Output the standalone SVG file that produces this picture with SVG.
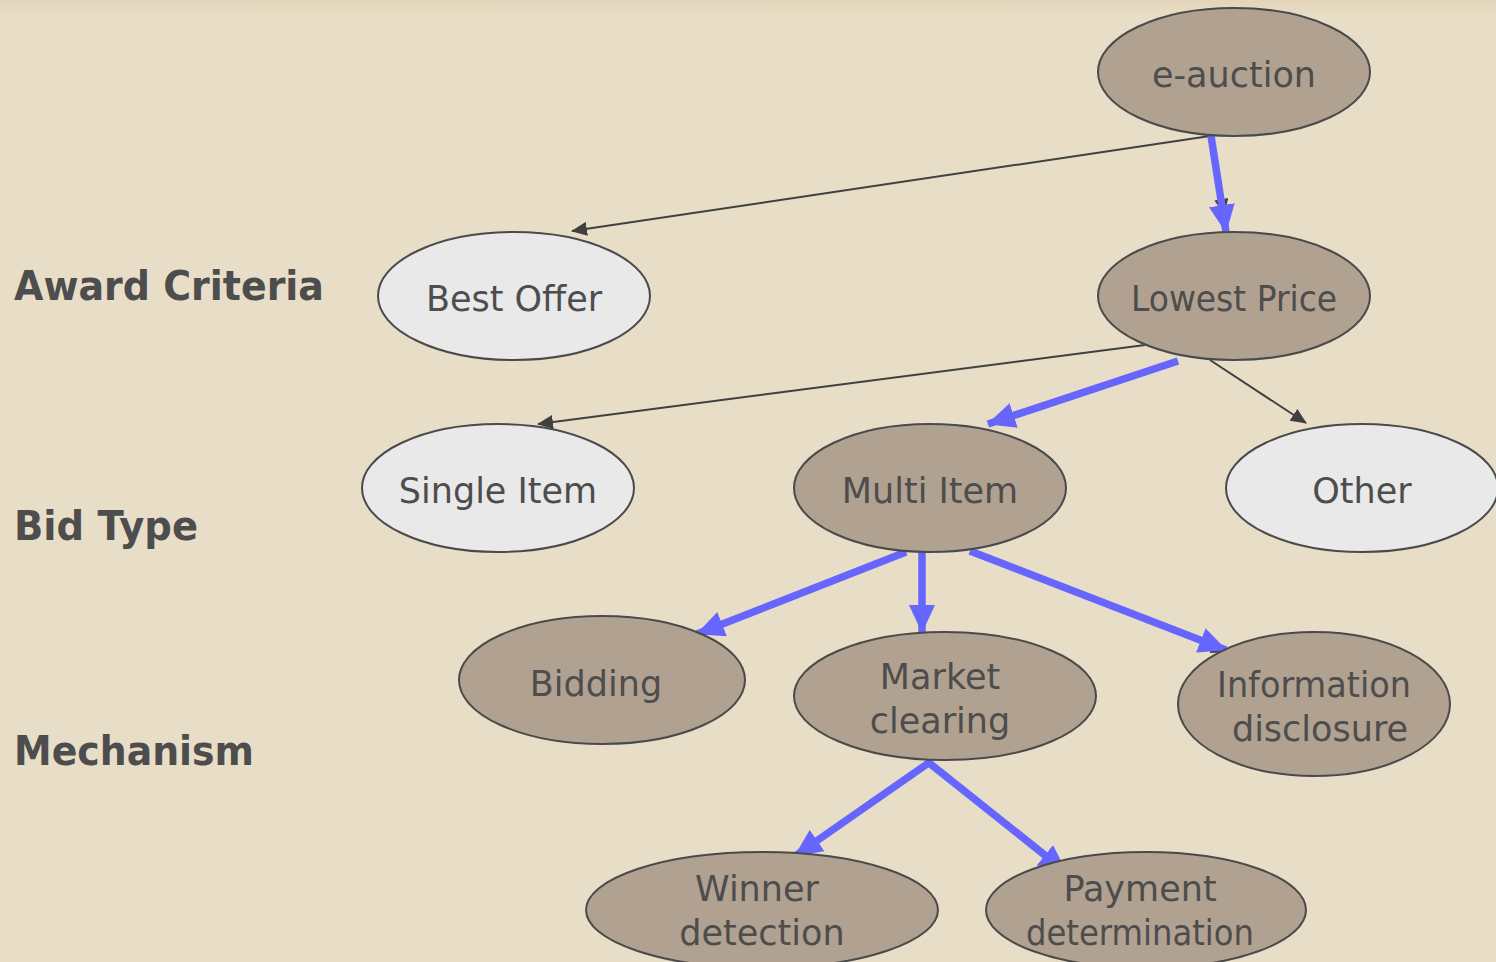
<svg xmlns="http://www.w3.org/2000/svg" width="1496" height="962" viewBox="0 0 1496 962">
<style>
.bg{fill:#e8dec7}
.n{stroke:#4a4a4a;stroke-width:2}
.dk{fill:#b1a190}
.lt{fill:#e9e9e9}
.t{font-family:"DejaVu Sans","Liberation Sans",sans-serif;font-size:35px;fill:#4d4d4d;text-anchor:middle}
.h{font-family:"DejaVu Sans","Liberation Sans",sans-serif;font-size:40px;font-weight:bold;fill:#4d4d4d}
.thin{stroke:#404040;stroke-width:2;fill:none}
.blue{stroke:#6666ff;stroke-width:7.5;fill:none}
</style>
<defs>
<linearGradient id="top" x1="0" y1="0" x2="0" y2="1">
<stop offset="0" stop-color="#e3d4b8"/>
<stop offset="1" stop-color="#e8dec7"/>
</linearGradient>
<marker id="ah" markerUnits="userSpaceOnUse" markerWidth="16" markerHeight="14" refX="15" refY="7" orient="auto">
<path d="M0,0 L16,7 L0,14 Z" fill="#404040"/>
</marker>
<marker id="bh" markerUnits="userSpaceOnUse" markerWidth="28" markerHeight="26" refX="27" refY="13" orient="auto">
<path d="M0,0 L28,13 L0,26 Z" fill="#6666ff"/>
</marker>
</defs>
<rect class="bg" x="0" y="0" width="1496" height="962"/>
<rect x="0" y="0" width="1496" height="16" fill="url(#top)"/>
<g id="labels">
<text class="h" x="14" y="300" textLength="310" lengthAdjust="spacingAndGlyphs">Award Criteria</text>
<text class="h" x="14" y="540" textLength="184" lengthAdjust="spacingAndGlyphs">Bid Type</text>
<text class="h" x="14" y="765" textLength="240" lengthAdjust="spacingAndGlyphs">Mechanism</text>
</g>
<g id="connectors">
<line class="thin" x1="1210" y1="136" x2="572" y2="231" marker-end="url(#ah)"/>
<line class="thin" x1="1210" y1="136" x2="1224" y2="214" marker-end="url(#ah)"/>
<line class="thin" x1="1145" y1="345" x2="538" y2="424" marker-end="url(#ah)"/>
<line class="thin" x1="1210" y1="360" x2="1306" y2="423" marker-end="url(#ah)"/>
<line class="thin" x1="906" y1="552" x2="698" y2="634" marker-end="url(#ah)"/>
<line class="thin" x1="970" y1="552" x2="1226" y2="652" marker-end="url(#ah)"/>
<line class="blue" x1="1211" y1="136" x2="1226" y2="232" marker-end="url(#bh)"/>
<line class="blue" x1="1178" y1="361" x2="988" y2="424" marker-end="url(#bh)"/>
<line class="blue" x1="906" y1="552" x2="697" y2="634" marker-end="url(#bh)"/>
<line class="blue" x1="922" y1="552" x2="922" y2="632" marker-end="url(#bh)"/>
<line class="blue" x1="970" y1="551" x2="1226" y2="650" marker-end="url(#bh)"/>
<line class="blue" x1="930" y1="762" x2="795" y2="856" marker-end="url(#bh)"/>
<line class="blue" x1="928" y1="762" x2="1066" y2="872" marker-end="url(#bh)"/>
</g>
<g id="e-auction"><ellipse class="n dk" cx="1234" cy="72" rx="136" ry="64"/><text class="t" x="1234" y="87">e-auction</text></g>
<g id="best-offer"><ellipse class="n lt" cx="514" cy="296" rx="136" ry="64"/><text class="t" x="514" y="311">Best Offer</text></g>
<g id="lowest-price"><ellipse class="n dk" cx="1234" cy="296" rx="136" ry="64"/><text class="t" x="1234" y="311" textLength="206" lengthAdjust="spacingAndGlyphs">Lowest Price</text></g>
<g id="single-item"><ellipse class="n lt" cx="498" cy="488" rx="136" ry="64"/><text class="t" x="498" y="503">Single Item</text></g>
<g id="multi-item"><ellipse class="n dk" cx="930" cy="488" rx="136" ry="64"/><text class="t" x="930" y="503">Multi Item</text></g>
<g id="other"><ellipse class="n lt" cx="1362" cy="488" rx="136" ry="64"/><text class="t" x="1362" y="503">Other</text></g>
<g id="bidding"><ellipse class="n dk" cx="602" cy="680" rx="143" ry="64"/><text class="t" x="596" y="696">Bidding</text></g>
<g id="market-clearing"><ellipse class="n dk" cx="945" cy="696" rx="151" ry="64"/><text class="t" x="940" y="689">Market</text><text class="t" x="940" y="733">clearing</text></g>
<g id="information-disclosure"><ellipse class="n dk" cx="1314" cy="704" rx="136" ry="72"/><text class="t" x="1314" y="697" textLength="194" lengthAdjust="spacingAndGlyphs">Information</text><text class="t" x="1320" y="741">disclosure</text></g>
<g id="winner-detection"><ellipse class="n dk" cx="762" cy="910" rx="176" ry="58"/><text class="t" x="757" y="901">Winner</text><text class="t" x="762" y="945">detection</text></g>
<g id="payment-determination"><ellipse class="n dk" cx="1146" cy="910" rx="160" ry="58"/><text class="t" x="1140" y="901">Payment</text><text class="t" x="1140" y="945" textLength="228" lengthAdjust="spacingAndGlyphs">determination</text></g>
</svg>
